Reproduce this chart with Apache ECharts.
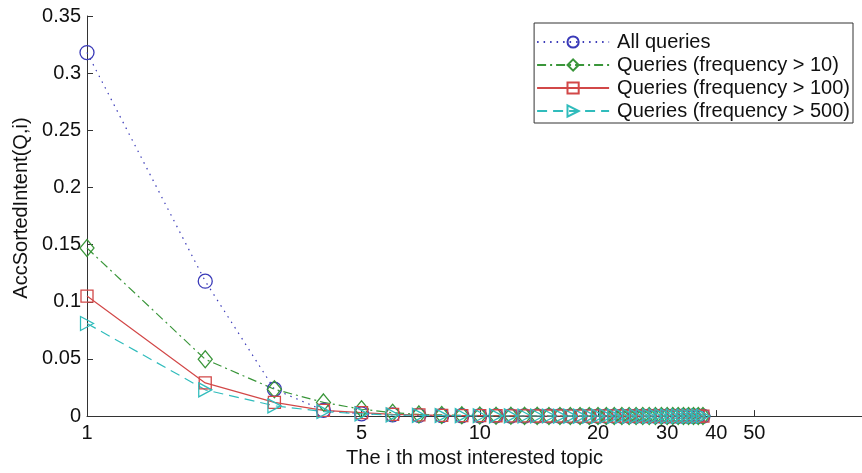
<!DOCTYPE html>
<html><head><meta charset="utf-8">
<script src="https://cdn.jsdelivr.net/npm/echarts@6/dist/echarts.min.js"></script>
<style>html,body{margin:0;padding:0;background:#fff}#c{width:862px;height:473px}</style>
</head><body><div id="c"></div>
<script>
const topics = [1,2,3,4,5,6,7,8,9,10,11,12,13,14,15,16,17,18,19,20,21,22,23,24,25,26,27,28,29,30,31,32,33,34,35,36,37];
const allQueries = [0.318,0.118,0.0235,0.005,0.002,0.001,0.0006,0.0004,0.0003,0.0002,0.0002,0.0001,0.0001,0.0001,0.0001,0.0001,0,0,0,0,0,0,0,0,0,0,0,0,0,0,0,0,0,0,0,0,0];
const freq10 = [0.147,0.0497,0.0235,0.012,0.006,0.003,0.0015,0.001,0.0007,0.0005,0.0004,0.0003,0.0002,0.0002,0.0001,0.0001,0.0001,0,0,0,0,0,0,0,0,0,0,0,0,0,0,0,0,0,0,0,0];
const freq100 = [0.105,0.029,0.012,0.005,0.003,0.0015,0.001,0.0007,0.0005,0.0004,0.0003,0.0002,0.0002,0.0001,0.0001,0.0001,0,0,0,0,0,0,0,0,0,0,0,0,0,0,0,0,0,0,0,0,0];
const freq500 = [0.081,0.023,0.009,0.004,0.002,0.001,0.0007,0.0005,0.0004,0.0003,0.0002,0.0002,0.0001,0.0001,0.0001,0,0,0,0,0,0,0,0,0,0,0,0,0,0,0,0,0,0,0,0,0,0];
const seriesNames = ['All queries','Queries (frequency > 10)','Queries (frequency > 100)','Queries (frequency > 500)'];
const xTicks = [1,5,10,20,30,40,50];

const font = 'Liberation Sans, Arial, sans-serif';
function pairs(vals){ return topics.map((t,i)=>[t, vals[i]]); }
function mk(name, vals, color, symbol, size, dash, rotate){
  return {
    name, type:'line', data: pairs(vals), symbol, symbolSize: size, symbolRotate: rotate||0,
    showAllSymbol: true,
    lineStyle:{color, width:1.2, type:dash},
    itemStyle:{color:'rgba(255,255,255,0)', borderColor: color, borderWidth:1.3},
    emphasis:{disabled:true}, animation:false
  };
}
const chart = echarts.init(document.getElementById('c'), null, {renderer:'canvas'});
chart.setOption({
  animation:false,
  backgroundColor:'#fff',
  grid:{left:87, top:16, right:0, bottom:56, containLabel:false},
  legend:{
    right:9, top:23, orient:'vertical', itemGap:3, itemWidth:72, itemHeight:14,
    padding:[9,3,2,2], borderColor:'#333', borderWidth:1, backgroundColor:'#fff',
    textStyle:{fontFamily:font, fontSize:20, color:'#111', padding:[0,0,0,3]},
    data: seriesNames
  },
  xAxis:{
    type:'log', logBase:10, min:1, max:94,
    name:'The i th most interested topic', nameLocation:'middle', nameGap:30,
    nameTextStyle:{fontFamily:font, fontSize:20, color:'#111'},
    axisLine:{lineStyle:{color:'#333', width:1}},
    axisTick:{inside:true, length:6, customValues:xTicks, lineStyle:{color:'#333'}},
    axisLabel:{customValues:xTicks, fontFamily:font, fontSize:20, color:'#111', margin:7},
    minorTick:{show:false}, splitLine:{show:false}
  },
  yAxis:{
    type:'value', min:0, max:0.35, interval:0.05,
    name:'AccSortedIntent(Q,i)', nameLocation:'middle', nameGap:52,
    nameTextStyle:{fontFamily:font, fontSize:20, color:'#111', padding:[0,0,0,16]},
    axisLine:{show:true, lineStyle:{color:'#333', width:1}},
    axisTick:{show:true, inside:true, length:6, lineStyle:{color:'#333'}},
    axisLabel:{fontFamily:font, fontSize:20, color:'#111', margin:6},
    splitLine:{show:false}
  },
  series:[
    mk(seriesNames[0], allQueries, '#3a3ab8', 'circle', 14, [1.5,5]),
    mk(seriesNames[1], freq10, '#3a963a', 'diamond', [14,17], [9,4,2,4]),
    mk(seriesNames[2], freq100, '#d24848', 'rect', 12, 'solid'),
    mk(seriesNames[3], freq500, '#30bcbc', 'triangle', [14,13], [10,6], -90)
  ]
});
</script></body></html>
